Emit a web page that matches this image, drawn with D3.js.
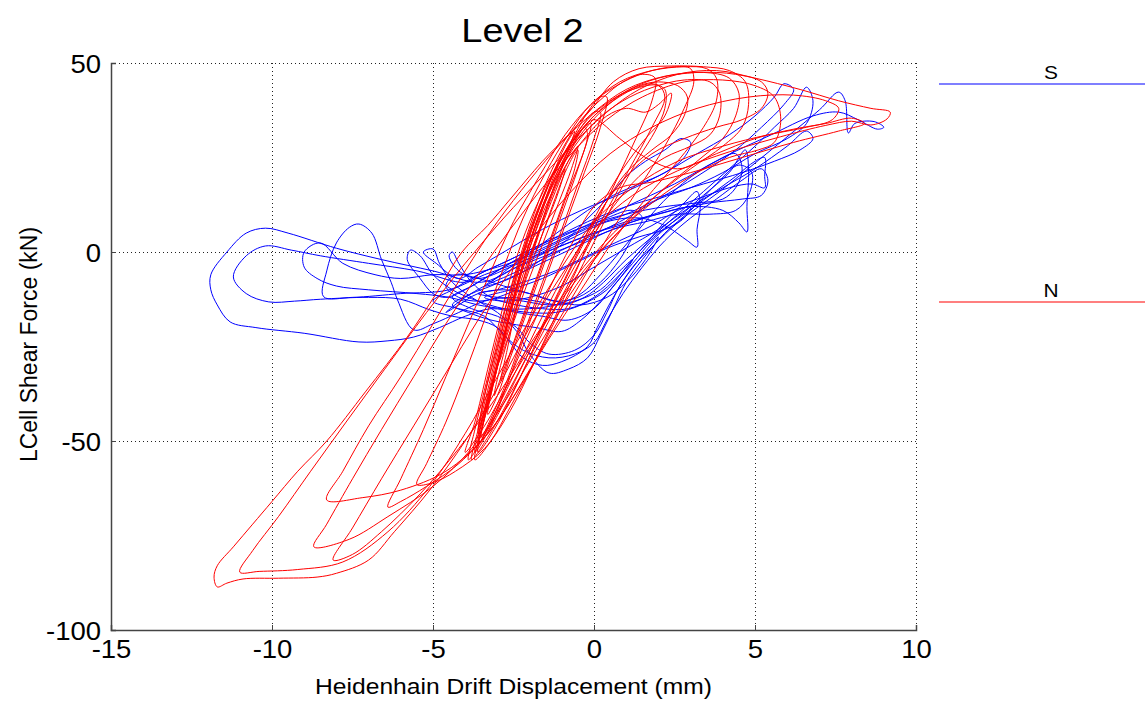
<!DOCTYPE html>
<html><head><meta charset="utf-8">
<script src="https://cdn.jsdelivr.net/npm/d3@7"></script>
<style>body{margin:0;background:#fff}svg{display:block}text{font-family:"Liberation Sans",Arial,sans-serif}</style>
</head><body><svg id="c" width="1145" height="703"></svg>
<script>
const title = "Level 2";
const xLabel = "Heidenhain Drift Displacement (mm)";
const yLabel = "LCell Shear Force (kN)";
const xTicks = [-15, -10, -5, 0, 5, 10];
const yTicks = [-100, -50, 0, 50];
const seriesNames = ["S", "N"];
const seriesColors = ["#0000ff", "#ff0000"];

// N (red) trace, [displacement mm, force kN]
const nData = [
[-1.8,0],[-1.3,12],[-0.9,21],[-0.6,26],[-0.5,27],[-0.6,22],[-1.0,12],[-1.5,0],[-2.0,-12],[-2.5,-24],[-2.8,-32],[-2.9,-34],
[-2.7,-26],[-2.4,-14],[-2.0,-2],[-1.5,11],[-1.0,22],[-0.6,29],[-0.3,33],[-0.2,31],[-0.5,22],[-1.0,10],[-1.5,-2],[-2.0,-14],[-2.6,-28],[-3.0,-38],[-3.3,-43],
[-3.1,-34],[-2.7,-20],[-2.3,-7],[-1.8,6],[-1.3,18],[-0.8,27],[-0.4,33],[0.0,37],[0.2,37],[0.0,30],[-0.5,18],[-1.0,6],[-1.6,-8],[-2.2,-22],[-2.7,-34],[-3.2,-44],[-3.5,-49],
[-3.3,-40],[-2.9,-26],[-2.5,-12],[-2.1,0],[-1.6,12],[-1.1,23],[-0.6,31],[-0.2,37],[0.2,41],[0.4,41],[0.2,33],[-0.3,21],[-0.9,7],[-1.5,-7],[-2.1,-21],[-2.7,-35],[-3.2,-46],[-3.7,-53],
[-3.5,-45],[-3.1,-31],[-2.7,-17],[-2.3,-4],[-1.8,9],[-1.3,20],[-0.9,28],[-0.6,32],[-0.8,27],[-1.3,16],[-1.8,3],[-2.3,-10],[-2.8,-24],[-3.2,-37],[-3.6,-48],
[-3.4,-38],[-3.0,-24],[-2.6,-10],[-2.1,4],[-1.6,16],[-1.0,27],[-0.4,35],[0.3,41],[0.9,45],[1.5,47],[1.9,46],[1.8,40],[1.3,30],[0.7,19],[0.1,8],[-0.5,-4],[-1.2,-17],[-1.9,-30],[-2.6,-42],[-3.4,-52],[-4.3,-58],[-5.0,-61],[-5.5,-61.5],
[-5.2,-56],[-4.6,-45],[-4.0,-32],[-3.4,-18],[-2.8,-4],[-2.2,9],[-1.5,21],[-0.8,31],[-0.1,39],[0.7,44],[1.6,47.5],[2.5,49],[3.0,48.5],[3.1,45],[2.8,38],[2.2,28],[1.4,17],[0.5,5],[-0.4,-8],[-1.3,-21],[-2.2,-34],[-3.1,-46],[-4.2,-56],[-5.2,-62],[-6.0,-66],[-6.4,-67.5],
[-6.0,-60],[-5.3,-47],[-4.6,-33],[-3.9,-19],[-3.2,-5],[-2.5,8],[-1.7,20],[-0.9,31],[-0.1,39],[0.8,45],[1.8,48],[2.8,49],[3.5,48.5],[3.8,46],[3.8,40],[3.4,33],[2.6,24],[1.6,14],[0.6,3],[-0.4,-10],[-1.4,-23],[-2.4,-37],[-3.4,-49],[-4.6,-58],[-6.0,-63],[-7.2,-65],[-8.3,-65.6],
[-7.8,-58],[-7.0,-46],[-6.0,-33],[-5.0,-19],[-4.0,-5],[-3.0,8],[-2.0,19],[-1.0,29],[0.0,37],[1.0,43],[2.2,46.5],[3.4,47.5],[4.2,46],[4.5,42],[4.4,36],[4.0,30],[3.2,24],[2.2,17],[1.2,9],[0.2,0],[-0.8,-12],[-1.8,-26],[-2.8,-40],[-3.8,-52],[-5.0,-62],[-6.4,-70],[-7.6,-76],[-8.7,-78],
[-8.3,-72],[-7.5,-60],[-6.6,-47],[-5.6,-33],[-4.6,-19],[-3.6,-6],[-2.6,6],[-1.6,17],[-0.6,27],[0.4,35],[1.5,41],[2.8,45],[4.0,45.5],[5.0,44],[5.6,41],[5.8,35],[5.6,29],[5.1,27],[4.2,25],[3.0,20],[1.8,13],[0.6,4],[-0.6,-8],[-1.8,-22],[-3.0,-38],[-4.2,-52],[-5.4,-64],[-6.6,-74],[-7.5,-80],[-8.1,-81.5],
[-7.5,-73],[-6.6,-60],[-5.6,-46],[-4.6,-32],[-3.6,-18],[-2.6,-5],[-1.6,7],[-0.6,17],[0.5,26],[1.8,33],[3.2,38],[4.8,41],[6.2,41.5],[7.2,40],[7.6,38],[7.4,35],[6.6,33],[5.4,31],[4.0,28],[2.6,24],[1.2,17],[0.0,8],[-1.0,-4],[-2.0,-18],[-3.0,-33],[-4.0,-48],[-5.1,-62],[-6.4,-74],[-7.8,-82],[-9.2,-84],[-10.4,-84.5],[-11.0,-84.7],
[-10.6,-79],[-9.8,-70],[-8.8,-58],[-7.7,-45],[-6.5,-31],[-5.2,-16],[-4.0,-3],[-2.8,9],[-1.6,20],[-0.6,29],[0.4,37],[1.4,43],[2.6,47],[3.8,48],[5.0,46],[6.4,43],[7.6,40],[8.6,38],[9.2,37],[9.1,35.2],[8.6,33.6],[8.0,34.6],[7.2,33.5],[5.8,30.5],[4.2,26.5],[2.6,21.5],[1.2,15],[0.0,6],[-1.0,-6],[-2.0,-20],[-3.0,-36],[-4.0,-50],[-5.1,-63],[-6.2,-74],[-7.0,-81.5],[-8.0,-85],[-8.6,-86],[-9.8,-86.3],[-10.9,-86.5],[-11.4,-87.6],[-11.7,-88.6],
[-11.8,-86],[-11.7,-83],[-11.2,-78],[-10.6,-72],[-10.0,-66],[-9.2,-58],[-8.3,-50],[-7.1,-37],[-5.8,-22.5],[-4.9,-11],[-4.1,0],[-3.3,7],[-2.6,14],[-1.6,24],[-0.8,31],[-0.1,37.6],[0.6,45],[1.4,48.5],[2.4,49.2],[3.4,49],[4.2,48],[4.7,45],[4.8,39],[4.6,33],[4.0,28],[3.0,22],[1.8,14],[0.6,5],[-0.6,-7],[-1.6,-20],[-2.6,-34],[-3.4,-46],[-4.0,-53],
[-3.7,-45],[-3.3,-31],[-2.9,-17],[-2.5,-4],[-2.0,8],[-1.4,19],[-0.8,28],[-0.2,35],[0.5,40],[1.2,43],[2.0,44],[2.2,41],[1.8,33],[1.1,22],[0.4,11],[-0.4,-2],[-1.2,-15],[-2.0,-28],[-2.7,-40],[-3.3,-49],[-3.8,-55],
[-3.6,-47],[-3.2,-33],[-2.8,-19],[-2.4,-6],[-1.9,7],[-1.4,18],[-0.9,26],[-0.4,32],[0.0,35],[0.8,30],[1.6,25],[2.6,22],[3.8,26],[5.0,30],[6.2,32.5],[7.2,34],[8.0,35.4],[8.4,34],[7.6,32],[6.2,29],[4.6,25],[3.0,21],[1.8,18.5],[0.8,17],[0.0,12],[-0.7,2],[-1.4,-10],[-2.1,-23],[-2.7,-35],[-3.2,-45],[-3.6,-51],
[-3.4,-42],[-3.0,-29],[-2.6,-15],[-2.2,-3],[-1.7,10],[-1.2,20],[-0.7,28],[-0.3,33],[-0.1,34],[-0.3,27],[-0.8,16],[-1.3,4],[-1.8,-8],[-2.3,-20],[-2.8,-31],[-3.1,-38],
[-2.9,-30],[-2.5,-18],[-2.1,-6],[-1.7,5],[-1.2,16],[-0.8,24],[-0.5,28],[-0.7,22],[-1.1,13],[-1.6,2],[-2.1,-9],[-2.6,-21],[-3.0,-30],
[-2.8,-22],[-2.4,-11],[-2.0,-1],[-1.6,8],[-1.2,17],[-0.9,22],[-1.1,16],[-1.5,7],[-1.9,-2],[-2.3,-12],
[-2.7,-22],[-3.1,-33],[-3.4,-42],[-3.6,-47],[-3.4,-38],[-3.0,-25],[-2.6,-12],[-2.2,0],[-1.7,12],[-1.2,22],[-0.6,30],[0.0,36],[0.6,40],[1.2,43],[1.8,44.5],[2.2,43],[2.2,38],[1.9,32],[1.4,25],[0.8,16],[0.2,6],[-0.5,-6],[-1.2,-18],[-1.9,-30],[-2.6,-41],[-3.2,-50],[-3.7,-55],
[-3.5,-47],[-3.1,-33],[-2.7,-19],[-2.3,-6],[-1.8,7],[-1.2,19],[-0.6,28],[0.1,35],[0.9,40],[1.8,43.5],[2.8,45.5],[3.6,45],[3.9,42],[3.9,36],[3.6,31],[3.0,28],[2.2,25],[1.4,20],[0.6,12],[-0.2,2],[-1.0,-10],[-1.8,-23],[-2.6,-36],[-3.3,-47],[-3.9,-55],
[-3.7,-47],[-3.3,-33],[-2.9,-19],[-2.4,-5],[-1.9,8],[-1.3,20],[-0.7,29],[0.0,36],[0.7,41],[1.4,44],[2.0,45],[2.6,44],[2.9,41],[2.8,36],[2.4,31],[1.8,27],[1.0,21],[0.3,12],[-0.4,1],[-1.1,-11],[-1.8,-24],[-2.5,-37],[-3.1,-47],[-3.6,-53],
[-3.4,-44],[-3.0,-30],[-2.6,-16],[-2.2,-3],[-1.7,10],[-1.1,21],[-0.5,30],[0.2,37],[1.0,42.5],[2.0,46],[3.2,47.5],[4.4,47],[5.2,45],[5.4,42],[5.2,38],[4.6,35],[3.8,33],[2.8,30],[1.8,26],[0.8,18],[0.0,8],[-0.8,-4],[-1.6,-17],[-2.4,-31],[-3.1,-43],[-3.6,-51],
[-3.3,-41],[-2.9,-27],[-2.5,-13],[-2.0,1],[-1.4,14],[-0.8,24],[-0.2,31],[0.4,36],[1.0,38],[1.6,37],[2.0,39],[2.4,42],[2.2,36],[1.6,30],[0.9,22],[0.2,12],[-0.5,0],[-1.3,-14],[-2.1,-28],[-2.8,-40],[-3.3,-48]
];

// S (blue) trace, [displacement mm, force kN]
const sData = [
[-2.4,-10],[-3.0,-12],[-3.6,-13],[-4.2,-12],[-4.6,-9],[-4.3,-6],[-3.6,-7],[-2.8,-9],[-2.0,-11],[-1.2,-13],[-0.5,-12],[0.2,-8],[0.8,-2],[1.2,4],[1.5,9],[1.2,11],[0.4,9],[-0.6,5],[-1.6,1],[-2.6,-3],[-3.4,-7],[-4.0,-10],[-4.6,-12],[-5.0,-11],
[-5.4,-7],[-5.8,-2],[-5.7,0.5],[-5.4,-1],[-5.0,-6],[-4.4,-10],[-3.6,-13],[-2.8,-15],[-2.0,-16],[-1.2,-16],[-0.4,-14],[0.4,-10],[1.0,-4],[1.6,2],[2.2,8],[2.8,13],[3.2,16],[3.3,12],[3.2,6],[3.2,1.3],[2.9,3],[2.2,7],[1.4,9],[0.4,8],[-0.6,4],[-1.6,0],[-2.6,-4],[-3.6,-7],[-4.2,-5],[-4.5,-1],[-4.4,0],[-4.2,-3],[-3.8,-8],[-3.2,-12],[-2.4,-14],[-1.6,-15],
[-0.8,-15],[0.0,-12],[0.8,-6],[1.4,0],[2.0,5],[2.8,10],[3.6,15],[4.4,20],[5.0,24],[5.3,25],[5.3,20],[5.3,17],[4.9,18],[4.2,17],[3.2,14],[2.2,11],[1.2,8],[0.0,4],[-1.2,0],[-2.4,-4],[-3.5,-8],[-5.0,-5],[-6.6,-2],[-8.0,1],[-9.5,5],[-10.2,6.3],[-10.8,5],[-11.4,0],[-11.9,-6],[-11.9,-10],[-11.7,-14],[-11.3,-18.5],[-10.5,-20],[-9.0,-21.5],[-7.3,-23.8],[-6.4,-23.5],[-5.6,-22.5],[-4.8,-20],[-4.0,-17],[-3.2,-15],[-2.4,-16],[-1.6,-17],[-0.8,-18],[0.0,-15],[0.6,-9],[1.2,-3],[1.8,3],[2.6,9],[3.4,15],[4.2,21],[4.7,27],[4.8,22],[4.75,12],[4.75,5.3],[4.5,7.7],[4.0,11],[3.0,12],[2.0,10],[1.0,8],[0.0,5],[-1.2,1],[-2.4,-3],
[-3.4,-6],[-4.5,-10],[-6.0,-11],[-7.5,-12],[-8.4,-11.8],[-8.3,-5],[-8.0,2.4],[-7.6,6.5],[-7.3,7.4],[-6.9,5],[-6.6,-2],[-6.3,-8],[-6.1,-12.7],[-5.6,-20.6],[-5.0,-19],[-4.2,-16],[-3.4,-13],[-2.6,-12],[-1.8,-13],[-1.0,-14],[-0.3,-12],[0.3,-8],
[1.0,-2],[1.8,4],[2.6,10],[3.4,16],[4.2,22],[5.0,28],[5.6,33],[6.2,38],[6.6,43.6],[6.8,40],[6.6,34],[6.0,30],[5.0,26],[4.0,21],[3.0,17],[2.0,14],[1.0,10],[0.0,7],[-1.0,3],[-2.0,-1],[-3.0,-4],[-4.0,-6],[-5.0,-6],[-6.0,-7],
[-6.8,-6],[-7.8,-3],[-8.5,2.4],[-9.0,0],[-9.0,-4],[-8.6,-7],[-8.0,-9],[-7.0,-10],[-5.5,-11],[-4.5,-12],[-3.6,-14],[-2.8,-15],[-2.0,-15],[-1.2,-14],
[-0.4,-11],[0.2,-6],[0.8,0],[1.4,6],[2.0,12],[2.6,17],[3.2,21],[3.8,24],[4.4,26],[4.6,22],[4.4,17],[4.0,14],[3.2,13],[2.2,12],[1.0,10],[-0.2,7],[-1.4,3],[-2.6,-2],[-3.6,-6],[-4.0,-8],
[-5.5,-5],[-7.0,-3],[-8.5,-1],[-9.4,0.5],[-10.2,1.6],[-10.8,-1],[-11.2,-6.6],[-10.8,-11],[-10.1,-13.2],[-9.3,-13],[-8.5,-12.5],[-7.0,-12],[-6.0,-12.5],[-5.1,-15.3],[-4.4,-17],[-3.6,-18],[-3.0,-20],[-2.6,-24],[-2.2,-28],[-1.6,-30],[-1.0,-29],[-0.2,-25],[0.1,-20],[0.6,-12],[1.2,-4],[1.8,1.3],[2.7,8.5],[3.9,16],[5.5,27],[7.0,37.6],[7.6,42.3],[7.8,40],[7.9,31.5],[8.1,34],[8.7,34.5],[9.0,33],[8.8,32.5],[8.2,35],[7.6,37],[6.8,36],[5.5,31],[4.0,25],[2.5,18],[1.0,12],[-0.5,6],[-2.0,0],[-3.0,-5],[-3.8,-9],
[-4.4,-12],[-3.8,-15],[-3.0,-17],[-2.4,-20],[-2.0,-24],[-1.4,-27],[-0.6,-26],[0.0,-22],[0.4,-16],[0.8,-9],[1.4,-2],[2.0,4],[1.6,-2],[1.0,-8],[0.4,-12],[-0.4,-14],[-1.2,-13],[-2.0,-11],[-2.8,-10],[-3.6,-11],[-4.2,-14],[-4.6,-16],
[-4.0,-12],[-3.4,-9],[-2.6,-6],[-1.6,-2],[-0.4,3],[0.8,8],[2.0,14],[3.2,20],[4.4,27],[5.2,33],[5.9,39],[6.2,43],[5.9,44.5],[5.6,41],[5.0,36],[4.2,31],[3.2,26],[2.2,21],[1.0,16],[-0.4,11],[-1.6,6],[-2.8,0],[-3.6,-4],[-4.2,-7],
[-4.9,-3],[-5.3,0],[-5.0,0.8],[-4.8,-3],[-4.4,-8],[-3.8,-12],[-3.0,-16],[-2.4,-21],[-2.0,-27],[-1.4,-32],[-0.8,-31],[-0.2,-28],[0.2,-22],[0.6,-15],[1.0,-8],[1.5,-2],[2.2,5],[3.0,11],[3.8,18],[4.5,23],[4.9,21],[4.8,15],[4.4,11],[3.6,10],[2.6,10],[1.6,8],[0.6,6],[-0.4,2],[-1.4,-2],[-2.4,-6],[-3.2,-9],[-3.8,-11],[-4.4,-14],
[-3.9,-16],[-3.2,-18],[-2.6,-19],[-1.8,-20],[-1.0,-21],[-0.4,-18],[0.2,-13],[0.8,-7],[1.2,-2],[0.8,-5],[0.2,-10],[-0.6,-13],[-1.4,-14],[-2.2,-13],[-3.0,-12],[-3.6,-11],
[-3.0,-10],[-2.2,-8],[-1.2,-5],[-0.2,-1],[0.8,3],[1.8,7],[2.6,11],[3.0,12],[2.8,9],[2.2,6],[1.4,4],[0.4,1],[-0.6,-3],[-1.6,-7],[-2.6,-10],[-3.4,-12],
[-2.8,-13],[-2.0,-12],[-1.0,-9],[0.0,-4],[1.0,1],[2.0,6],[3.0,12],[4.0,17],[5.0,22],[6.0,28],[6.6,32],[6.8,30],[6.4,27],[5.6,24],[4.6,21],[3.4,18],[2.2,15],[1.0,12],[-0.2,8],[-1.4,3],[-2.6,-2],[-3.6,-6],[-4.4,-10],[-5.0,-13],
[-4.2,-15],[-3.4,-17],[-2.8,-22],[-2.2,-26],[-1.4,-28],[-0.6,-27],[0.0,-24],[0.4,-18],[0.9,-11],[1.5,-4],[2.2,3],[3.0,9],[3.8,14],[4.6,19],[5.2,22],[5.4,19],[5.2,15],[4.6,14],[3.6,13],[2.4,11],[1.2,8],[0.0,5],[-1.2,1],[-2.4,-4],[-3.4,-9],
[-2.6,-7],[-1.8,-3],[-1.0,2],[-0.3,8],[0.4,14],[1.0,20],[1.6,24],[2.2,27],[2.7,30],[3.0,29],[2.8,25],[2.2,21],[1.4,18],[0.6,15],[-0.2,11],[-1.0,6],[-1.8,1],[-2.6,-4],[-3.2,-8]
];

const W = 1145, H = 703;
const m = {left: 111, right: 916, top: 63, bottom: 630};
const x = d3.scaleLinear().domain([xTicks[0], xTicks[xTicks.length-1]]).range([m.left, m.right]);
const y = d3.scaleLinear().domain([yTicks[0], yTicks[yTicks.length-1]]).range([m.bottom, m.top]);
const svg = d3.select("#c");

// grid (dotted)
const grid = svg.append("g").attr("stroke", "#222").attr("stroke-width", 1).attr("stroke-dasharray", "1,3");
xTicks.slice(1).forEach(t => grid.append("line").attr("x1", x(t)+0.5).attr("x2", x(t)+0.5).attr("y1", m.top).attr("y2", m.bottom));
yTicks.slice(1).forEach(t => grid.append("line").attr("x1", m.left).attr("x2", m.right).attr("y1", y(t)+0.5).attr("y2", y(t)+0.5));

// data lines
const line = d3.line().x(d => x(d[0])).y(d => y(d[1])).curve(d3.curveCatmullRom.alpha(0.5));
const plot = svg.append("g");
plot.append("path").datum(sData).attr("d", line).attr("fill", "none").attr("stroke", seriesColors[0]).attr("stroke-width", 1).attr("stroke-linejoin", "round");
plot.append("path").datum(nData).attr("d", line).attr("fill", "none").attr("stroke", seriesColors[1]).attr("stroke-width", 1).attr("stroke-linejoin", "round");

// axes
const fmt = d => String(d);
const xAxis = d3.axisBottom(x).tickValues(xTicks).tickSize(-5).tickPadding(7).tickFormat(fmt);
const yAxis = d3.axisLeft(y).tickValues(yTicks).tickSize(-5).tickPadding(10).tickFormat(fmt);
const gx = svg.append("g").attr("transform", `translate(0,${m.bottom})`).call(xAxis);
const gy = svg.append("g").attr("transform", `translate(${m.left},0)`).call(yAxis);
[gx, gy].forEach(g => {
  g.select(".domain").attr("stroke", "#444").attr("stroke-width", 1.5);
  g.selectAll(".tick line").attr("stroke", "#444");
  g.selectAll("text").attr("font-size", 25).attr("fill", "#000").attr("font-family", "Liberation Sans, Arial, sans-serif");
});
gx.selectAll(".tick text").attr("dy", "0.85em").attr("transform", "scale(1.1,1)");
gy.selectAll(".tick text").attr("dy", "0.36em").attr("transform", "translate(-11,0) scale(1.1,1) translate(11,0)");

// titles
svg.append("text").attr("transform", `translate(${(m.left+m.right)/2+9},42) scale(1.15,1)`).attr("text-anchor", "middle").attr("font-size", 33).text(title);
svg.append("text").attr("transform", `translate(${(m.left+m.right)/2},694) scale(1.12,1)`).attr("text-anchor", "middle").attr("font-size", 22).text(xLabel);
svg.append("text").attr("transform", `translate(37,${(m.top+m.bottom)/2-2}) rotate(-90)`).attr("text-anchor", "middle").attr("font-size", 23).text(yLabel);

// legend
const legY = [84, 302];
seriesNames.forEach((name, i) => {
  svg.append("line").attr("x1", 939).attr("x2", 1145).attr("y1", legY[i]).attr("y2", legY[i]).attr("stroke", seriesColors[i]).attr("stroke-width", 1.2);
  svg.append("text").attr("transform", `translate(1051,${legY[i]-5}) scale(1.1,1)`).attr("text-anchor", "middle").attr("font-size", 19).text(name);
});
</script></body></html>
